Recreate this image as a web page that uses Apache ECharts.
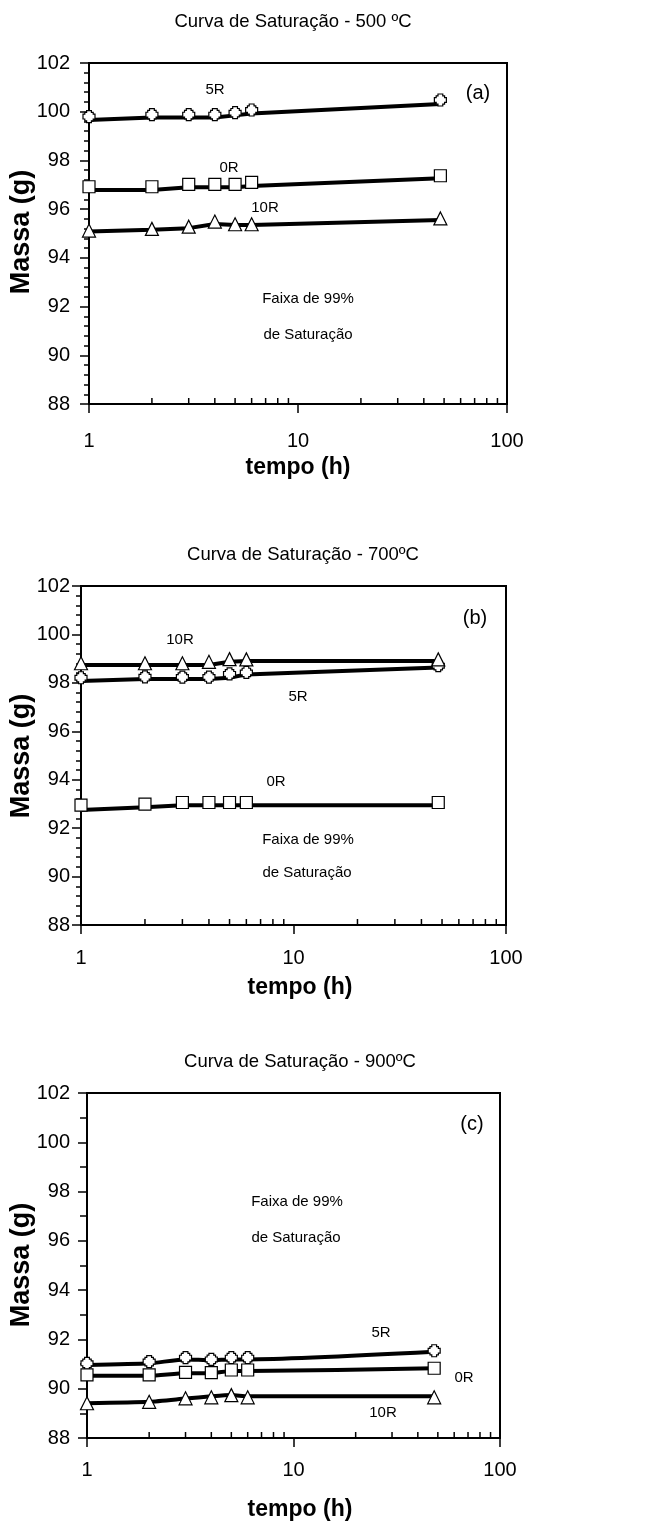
<!DOCTYPE html>
<html>
<head lang="pt">
    <meta charset="UTF-8">
    <title>Curva de Saturação</title>
    <style>
        html, body { margin: 0; padding: 0; background: #fff; }
        #main { width: 657px; height: 1527px; }
    </style>
</head>
<body>
<div id="main"></div>
<script src="https://cdn.jsdelivr.net/npm/echarts@6/dist/echarts.min.js"></script>
<script>
    // tempo (h), mesmo para todas as curvas
    var tempo = [1, 2, 3, 4, 5, 6, 48];
    var yTicks = [88, 90, 92, 94, 96, 98, 100, 102];
    var xTicks = [1, 10, 100];
    var xMinor = [2, 3, 4, 5, 6, 7, 8, 9, 20, 30, 40, 50, 60, 70, 80, 90];

    // (a) 500 ºC  -- pts = marcadores, linha = curva ajustada
    var a5R_pts   = [99.80, 99.88, 99.88, 99.88, 99.96, 100.07, 100.48];
    var a5R_linha = [99.66, 99.76, 99.76, 99.76, 99.85, 99.93, 100.32];
    var a0R_pts   = [96.92, 96.92, 97.02, 97.02, 97.02, 97.10, 97.37];
    var a0R_linha = [96.79, 96.79, 96.90, 96.90, 96.90, 96.95, 97.27];
    var a10R_pts   = [95.12, 95.19, 95.28, 95.49, 95.38, 95.38, 95.62];
    var a10R_linha = [95.08, 95.15, 95.22, 95.39, 95.35, 95.35, 95.55];

    // (b) 700 ºC
    var b5R_pts   = [98.21, 98.25, 98.24, 98.24, 98.37, 98.43, 98.71];
    var b5R_linha = [98.08, 98.16, 98.16, 98.16, 98.21, 98.35, 98.63];
    var b0R_pts   = [92.95, 92.99, 93.06, 93.06, 93.06, 93.06, 93.06];
    var b0R_linha = [92.75, 92.86, 92.95, 92.95, 92.95, 92.95, 92.95];
    var b10R_pts   = [98.81, 98.81, 98.81, 98.87, 98.98, 98.97, 98.97];
    var b10R_linha = [98.74, 98.74, 98.74, 98.74, 98.87, 98.90, 98.90];

    // (c) 900 ºC
    var c5R_pts   = [91.03, 91.10, 91.26, 91.19, 91.26, 91.26, 91.54];
    var c5R_linha = [90.96, 91.03, 91.19, 91.16, 91.19, 91.19, 91.50];
    var c0R_pts   = [90.56, 90.56, 90.66, 90.65, 90.76, 90.76, 90.83];
    var c0R_linha = [90.53, 90.53, 90.63, 90.63, 90.72, 90.72, 90.83];
    var c10R_pts   = [89.41, 89.47, 89.61, 89.65, 89.74, 89.65, 89.65];
    var c10R_linha = [89.41, 89.47, 89.60, 89.69, 89.74, 89.69, 89.69];

    var fonte = '"Liberation Sans", Arial, sans-serif';
    // marcador do 5R (quadrado com cantos recortados)
    var simbolo5R = 'path://M3,0L7,0L7,1.5L8.5,1.5L8.5,3L10,3L10,7L8.5,7L8.5,8.5L7,8.5L7,10L3,10L3,8.5L1.5,8.5L1.5,7L0,7L0,3L1.5,3L1.5,1.5L3,1.5Z';

    function junta(ys) {
        return tempo.map(function (t, i) { return [t, ys[i]]; });
    }

    // paineis: grade, margens dos rotulos, textos
    var paineis = [
        {
            grid: {left: 89, top: 63, width: 418, height: 341},
            minorY: 5, xMargin: 27, yMargin: 19, smooth: false,
            curvas: [
                {linha: a5R_linha, pts: a5R_pts, simb: simbolo5R, size: 12},
                {linha: a0R_linha, pts: a0R_pts, simb: 'rect', size: 12},
                {linha: a10R_linha, pts: a10R_pts, simb: 'triangle', size: 13}
            ],
            titulo: ['Curva de Saturação - 500 ºC', 293, 22],
            xNome: [298, 468], yNome: [22, 232],
            textos: [['5R', 215, 90, 15], ['0R', 229, 168, 15], ['10R', 265, 208, 15], ['(a)', 478, 93, 20],
                     ['Faixa de 99%', 308, 299, 15], ['de Saturação', 308, 335, 15]]
        },
        {
            grid: {left: 81, top: 586, width: 425, height: 339},
            minorY: 5, xMargin: 23, yMargin: 11, smooth: false,
            curvas: [
                {linha: b5R_linha, pts: b5R_pts, simb: simbolo5R, size: 12},
                {linha: b0R_linha, pts: b0R_pts, simb: 'rect', size: 12},
                {linha: b10R_linha, pts: b10R_pts, simb: 'triangle', size: 13}
            ],
            titulo: ['Curva de Saturação - 700ºC', 303, 555],
            xNome: [300, 988], yNome: [22, 756],
            textos: [['10R', 180, 640, 15], ['5R', 298, 697, 15], ['0R', 276, 782, 15], ['(b)', 475, 618, 20],
                     ['Faixa de 99%', 308, 840, 15], ['de Saturação', 307, 873, 15]]
        },
        {
            grid: {left: 87, top: 1093, width: 413, height: 345},
            minorY: 2, xMargin: 22, yMargin: 17, smooth: 0.2,
            curvas: [
                {linha: c5R_linha, pts: c5R_pts, simb: simbolo5R, size: 12},
                {linha: c0R_linha, pts: c0R_pts, simb: 'rect', size: 12},
                {linha: c10R_linha, pts: c10R_pts, simb: 'triangle', size: 13}
            ],
            titulo: ['Curva de Saturação - 900ºC', 300, 1062],
            xNome: [300, 1510], yNome: [22, 1265],
            textos: [['5R', 381, 1333, 15], ['0R', 464, 1378, 15], ['10R', 383, 1413, 15], ['(c)', 472, 1124, 20],
                     ['Faixa de 99%', 297, 1202, 15], ['de Saturação', 296, 1238, 15]]
        }
    ];

    var option = {
        animation: false,
        backgroundColor: '#fff',
        grid: [], xAxis: [], yAxis: [], series: [], graphic: []
    };

    paineis.forEach(function (p, k) {
        option.grid.push({
            left: p.grid.left, top: p.grid.top, width: p.grid.width, height: p.grid.height,
            show: true, borderColor: '#000', borderWidth: 2
        });
        option.xAxis.push({
            type: 'log', logBase: 10, gridIndex: k, min: xTicks[0], max: xTicks[xTicks.length - 1],
            axisLine: {lineStyle: {color: '#000', width: 2}},
            axisTick: {length: 9, lineStyle: {color: '#000', width: 1.5}},
            axisLabel: {color: '#000', fontSize: 20, fontFamily: fonte, margin: p.xMargin},
            splitLine: {show: false}
        });
        option.yAxis.push({
            type: 'value', gridIndex: k, min: yTicks[0], max: yTicks[yTicks.length - 1], interval: 2,
            axisLine: {show: true, lineStyle: {color: '#000', width: 2}},
            axisTick: {show: true, length: 9, lineStyle: {color: '#000', width: 1.5}},
            minorTick: {show: true, splitNumber: p.minorY, length: p.minorY === 2 ? 7 : 5, lineStyle: {color: '#000', width: 1.5}},
            axisLabel: {color: '#000', fontSize: 20, fontFamily: fonte, margin: p.yMargin},
            splitLine: {show: false}
        });

        // marcas menores do eixo log (para dentro)
        option.series.push({
            type: 'custom', xAxisIndex: k, yAxisIndex: k, silent: true, clip: false,
            data: xMinor.map(function (v) { return [v, yTicks[0]]; }),
            renderItem: function (params, api) {
                var c = api.coord([api.value(0), api.value(1)]);
                return {type: 'line', shape: {x1: c[0], y1: c[1], x2: c[0], y2: c[1] - 6},
                        style: {stroke: '#000', lineWidth: 1.5}};
            }
        });

        p.curvas.forEach(function (cv) {
            option.series.push({
                type: 'line', xAxisIndex: k, yAxisIndex: k, data: junta(cv.linha),
                showSymbol: false, smooth: p.smooth, z: 2,
                lineStyle: {color: '#000', width: 4}
            });
        });
        p.curvas.forEach(function (cv, i) {
            option.series.push({
                type: 'scatter', xAxisIndex: k, yAxisIndex: k, data: junta(cv.pts),
                symbol: cv.simb, symbolSize: cv.size, z: 3 + i,
                itemStyle: {color: '#fff', borderColor: '#000', borderWidth: 1.2, opacity: 1}
            });
        });

        // textos do painel
        option.graphic.push({
            type: 'text', x: p.titulo[1], y: p.titulo[2],
            style: {text: p.titulo[0], font: '18.5px ' + fonte, fill: '#000', align: 'center', verticalAlign: 'middle'}
        });
        option.graphic.push({
            type: 'text', x: p.xNome[0], y: p.xNome[1],
            style: {text: 'tempo (h)', font: 'bold 23px ' + fonte, fill: '#000', align: 'center', verticalAlign: 'middle'}
        });
        option.graphic.push({
            type: 'text', x: p.yNome[0], y: p.yNome[1], rotation: Math.PI / 2,
            style: {text: 'Massa (g)', font: 'bold 27px ' + fonte, fill: '#000', align: 'center', verticalAlign: 'middle'}
        });
        p.textos.forEach(function (t) {
            option.graphic.push({
                type: 'text', x: t[1], y: t[2],
                style: {text: t[0], font: t[3] + 'px ' + fonte, fill: '#000', align: 'center', verticalAlign: 'middle'}
            });
        });
    });

    var myChart = echarts.init(document.getElementById('main'));
    myChart.setOption(option);
</script>
</body>
</html>
